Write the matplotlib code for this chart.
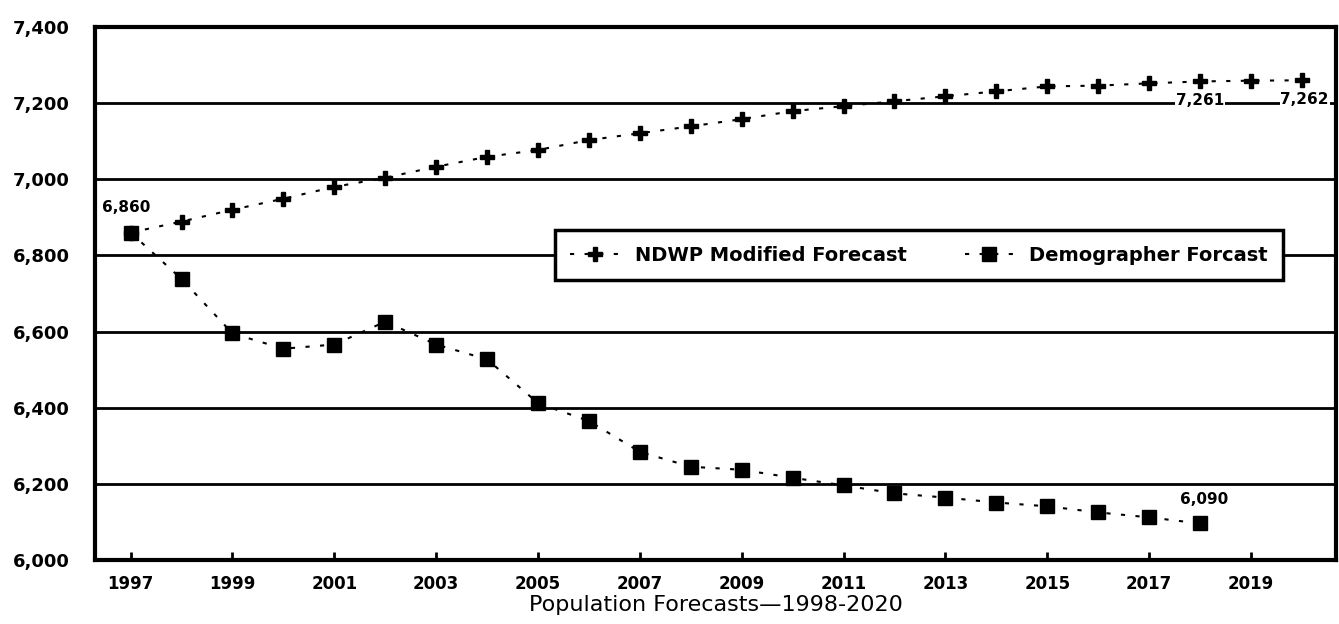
import matplotlib
matplotlib.use("Agg")
import matplotlib.pyplot as plt

# values
years = list(range(1997, 2021))
ndwp = [6860, 6889, 6920, 6949, 6980, 7004, 7033, 7059, 7077, 7103, 7121, 7139,
        7158, 7179, 7192, 7205, 7218, 7231, 7244, 7246, 7252, 7257, 7259, 7260]
demo_years = list(range(1997, 2019))
demo = [6860, 6738, 6595, 6555, 6566, 6626, 6566, 6527, 6412, 6365, 6284, 6245,
        6237, 6216, 6196, 6175, 6164, 6151, 6141, 6125, 6112, 6096]
tick_years = list(range(1997, 2020, 2))
y_ticks = [6000, 6200, 6400, 6600, 6800, 7000, 7200, 7400]
grid_levels = [6200, 6400, 6600, 6800, 7000, 7200]

fig = plt.figure(figsize=(13.39, 6.24), dpi=100)
ax = fig.add_axes([95 / 1339, 64 / 624, 1241 / 1339, 533 / 624])

for g in grid_levels:
    ax.axhline(g, color="black", lw=2, zorder=1)

ax.plot(years, ndwp, color="black", ls=(0, (2, 5)), lw=1.5, marker="P", ms=10,
        mec="black", mfc="black", label="NDWP Modified Forecast", zorder=3)
ax.plot(demo_years, demo, color="black", ls=(0, (2, 5)), lw=1.5, marker="s", ms=10,
        mec="black", mfc="black", label="Demographer Forcast", zorder=3)

# point labels
ax.annotate("6,860", (demo_years[0], demo[0]), xytext=(-3, 15), textcoords="offset points",
            ha="center", fontsize=11, fontweight="bold")
ax.annotate("6,090", (demo_years[-1], demo[-1]), xytext=(3, 14), textcoords="offset points",
            ha="center", fontsize=11, fontweight="bold")
ax.annotate("7,261", (years[-3], ndwp[-3]), xytext=(0, -17), textcoords="offset points",
            ha="center", fontsize=11, fontweight="bold",
            bbox=dict(fc="white", ec="none", pad=0.5))
ax.annotate("7,262", (years[-1], ndwp[-1]), xytext=(2, -17), textcoords="offset points",
            ha="center", fontsize=11, fontweight="bold",
            bbox=dict(fc="white", ec="none", pad=0.5))

ax.set_xlim(1996.3, 2020.67)
ax.set_ylim(6000, 7400)
ax.set_xticks(tick_years)
ax.set_xticklabels([str(y) for y in tick_years], fontsize=12, fontweight="bold")
ax.set_yticks(y_ticks)
ax.set_yticklabels(["{:,}".format(v) for v in y_ticks], fontsize=13, fontweight="bold")
ax.tick_params(axis="x", direction="in", length=6, width=2, pad=11)
ax.tick_params(axis="y", length=0, pad=18)
ax.set_xlabel("Population Forecasts\u20141998-2020", fontsize=16, labelpad=1)

for s in ax.spines.values():
    s.set_linewidth(3)
    s.set_color("black")

leg = ax.legend(loc="center", bbox_to_anchor=(0.664, 0.572), ncol=2, fontsize=14,
                frameon=True, fancybox=False, edgecolor="black", framealpha=1,
                handlelength=2.5, columnspacing=3.0, borderpad=0.8)
leg.get_frame().set_linewidth(2.5)
for t in leg.get_texts():
    t.set_fontweight("bold")

fig.savefig("out.png", dpi=100)
